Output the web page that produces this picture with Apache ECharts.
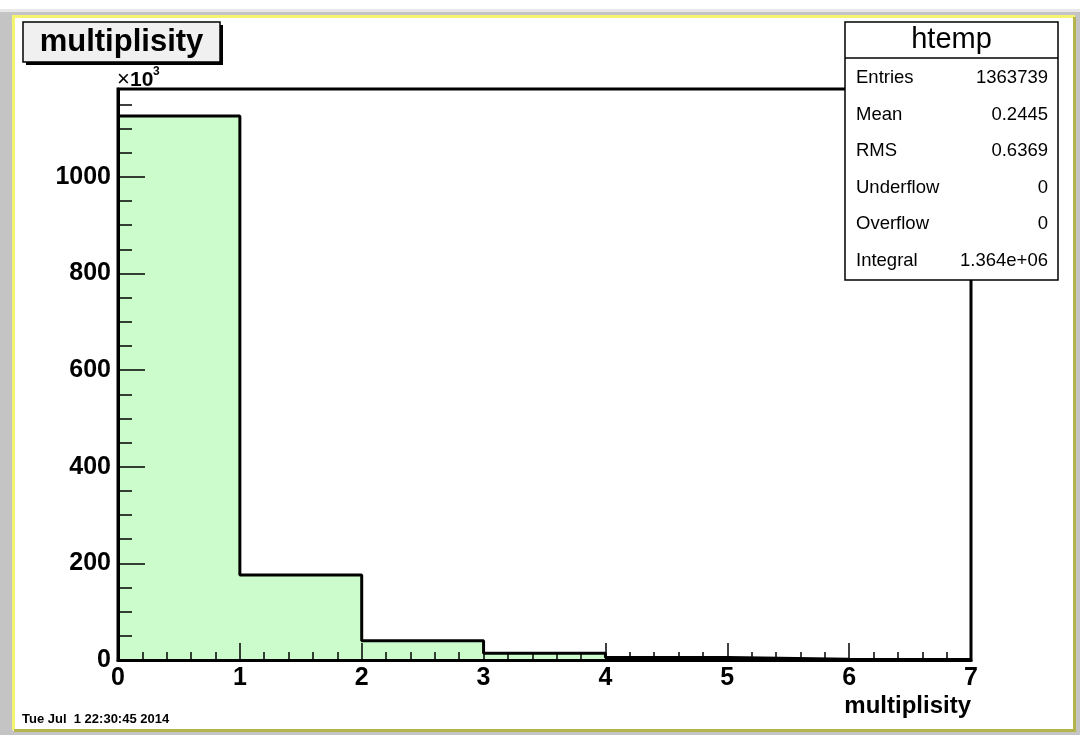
<!DOCTYPE html>
<html>
<head>
<meta charset="utf-8">
<style>
  html, body { margin: 0; padding: 0; background: #ffffff; }
  #chart { width: 1080px; height: 735px; }
</style>
<script src="https://cdn.jsdelivr.net/npm/echarts@6/dist/echarts.min.js"></script>
</head>
<body>
<div id="chart"></div>
<script>
// ---- data (counts in units of 10^3) ----
const binEdges = [0, 1, 2, 3, 4, 5, 6, 7];
const counts = [1126, 176, 40, 14, 5, 1.8, 0.8];
const yMax = 1182;
const statLabels = ['Entries', 'Mean', 'RMS', 'Underflow', 'Overflow', 'Integral'];
const statValues = ['1363739', '0.2445', '0.6369', '0', '0', '1.364e+06'];
const histTitle = 'multiplisity';
const statTitle = 'htemp';
const xTitle = 'multiplisity';
const dateText = 'Tue Jul  1 22:30:45 2014';

const stepData = binEdges.map((e, i) => [e, counts[Math.min(i, counts.length - 1)]]);

const FONT = '"Liberation Sans", Arial, Helvetica, sans-serif';
const chart = echarts.init(document.getElementById('chart'), null, { renderer: 'canvas' });

const statGraphics = [];
statLabels.forEach((lab, i) => {
  const cy = 78 + i * 36.6;
  statGraphics.push({
    type: 'text', x: 856, y: cy,
    style: { text: lab, font: '18.5px ' + FONT, fill: '#000', verticalAlign: 'middle' }, z: 110
  });
  statGraphics.push({
    type: 'text', x: 1048, y: cy,
    style: { text: statValues[i], font: '18.5px ' + FONT, fill: '#000', align: 'right', verticalAlign: 'middle' }, z: 110
  });
});

const option = {
  animation: false,
  backgroundColor: '#ffffff',
  grid: {
    left: 118, right: 109, top: 89, bottom: 75,
    show: true, borderColor: '#000', borderWidth: 3, backgroundColor: 'transparent'
  },
  xAxis: [
    {
      type: 'value', min: 0, max: 7, interval: 1, position: 'bottom', z: 10,
      axisLine: { show: true, onZero: false, lineStyle: { color: '#000', width: 3 } },
      axisTick: { show: true, inside: true, length: 17, lineStyle: { color: '#000', width: 1.5 } },
      axisLabel: { show: true, margin: 6, color: '#000', fontSize: 25, fontWeight: 'bold', fontFamily: FONT },
      splitLine: { show: false }
    },
    {
      type: 'value', min: 0, max: 7, interval: 0.2, position: 'bottom', z: 10,
      axisLine: { show: false },
      axisTick: { show: true, inside: true, length: 8, lineStyle: { color: '#000', width: 1.5 } },
      axisLabel: { show: false },
      splitLine: { show: false }
    }
  ],
  yAxis: [
    {
      type: 'value', min: 0, max: yMax, interval: 200, position: 'left', z: 10,
      axisLine: { show: true, onZero: false, lineStyle: { color: '#000', width: 3 } },
      axisTick: { show: true, inside: true, length: 27, lineStyle: { color: '#000', width: 1.5 } },
      axisLabel: {
        show: true, margin: 7, color: '#000', fontSize: 25, fontWeight: 'bold', fontFamily: FONT,
        showMaxLabel: false,
        formatter: v => (v % 200 === 0 ? String(v) : '')
      },
      splitLine: { show: false }
    },
    {
      type: 'value', min: 0, max: yMax, interval: 50, position: 'left', z: 10,
      axisLine: { show: false },
      axisTick: { show: true, inside: true, length: 14, lineStyle: { color: '#000', width: 1.5 } },
      axisLabel: { show: false },
      splitLine: { show: false }
    }
  ],
  series: [
    {
      type: 'line', xAxisIndex: 0, yAxisIndex: 0,
      step: 'end', symbol: 'none', data: stepData,
      lineStyle: { color: '#000', width: 3 },
      areaStyle: { color: '#ccfccc', opacity: 1, origin: 'start' },
      z: 1
    }
  ],
  graphic: [
    // canvas frame: grey surround with bevelled yellow border
    { type: 'rect', shape: { x: 0, y: 9, width: 1080, height: 726 }, style: { fill: '#c4c4c4' }, z: -20, silent: true },
    { type: 'rect', shape: { x: 13, y: 16, width: 1062, height: 715 }, style: { fill: '#ffffff' }, z: -19, silent: true },
    { type: 'polyline', shape: { points: [[13.5, 730], [13.5, 16.5], [1075, 16.5]] }, style: { stroke: '#f4f470', lineWidth: 3, fill: null }, z: -18, silent: true },
    { type: 'polyline', shape: { points: [[14, 730.5], [1074.5, 730.5], [1074.5, 17]] }, style: { stroke: '#b4b44c', lineWidth: 3, fill: null }, z: -18, silent: true },
    { type: 'rect', shape: { x: 0, y: 9, width: 1080, height: 3 }, style: { fill: '#e8e8e8' }, z: -17, silent: true },

    // title pave with shadow
    { type: 'rect', shape: { x: 26, y: 25, width: 197, height: 40 }, style: { fill: '#000' }, z: 100 },
    { type: 'rect', shape: { x: 23, y: 22, width: 197, height: 40 }, style: { fill: '#f0f0f0', stroke: '#000', lineWidth: 1.5 }, z: 101 },
    { type: 'text', x: 121.5, y: 42, style: { text: histTitle, font: 'bold 31px ' + FONT, fill: '#000', align: 'center', verticalAlign: 'middle' }, z: 102 },

    // x10^3 exponent
    { type: 'text', x: 117, y: 80, style: { text: '\u00d7', font: '22px ' + FONT, fill: '#000', verticalAlign: 'middle' }, z: 50 },
    { type: 'text', x: 130, y: 80, style: { text: '10', font: 'bold 21px ' + FONT, fill: '#000', verticalAlign: 'middle' }, z: 50 },
    { type: 'text', x: 153, y: 72, style: { text: '3', font: 'bold 12px ' + FONT, fill: '#000', verticalAlign: 'middle' }, z: 50 },

    // stats box
    { type: 'rect', shape: { x: 845, y: 22, width: 213, height: 258 }, style: { fill: '#ffffff', stroke: '#000', lineWidth: 1.5 }, z: 105 },
    { type: 'line', shape: { x1: 845, y1: 58, x2: 1058, y2: 58 }, style: { stroke: '#000', lineWidth: 1.5 }, z: 106 },
    { type: 'text', x: 951.5, y: 40, style: { text: statTitle, font: '29px ' + FONT, fill: '#000', align: 'center', verticalAlign: 'middle' }, z: 110 },
    ...statGraphics,

    // x axis title
    { type: 'text', x: 971, y: 706, style: { text: xTitle, font: 'bold 24px ' + FONT, fill: '#000', align: 'right', verticalAlign: 'middle' }, z: 50 },
    // date
    { type: 'text', x: 22, y: 719, style: { text: dateText, font: 'bold 13px ' + FONT, fill: '#000', verticalAlign: 'middle' }, z: 50 }
  ]
};
chart.setOption(option);
</script>
</body>
</html>
